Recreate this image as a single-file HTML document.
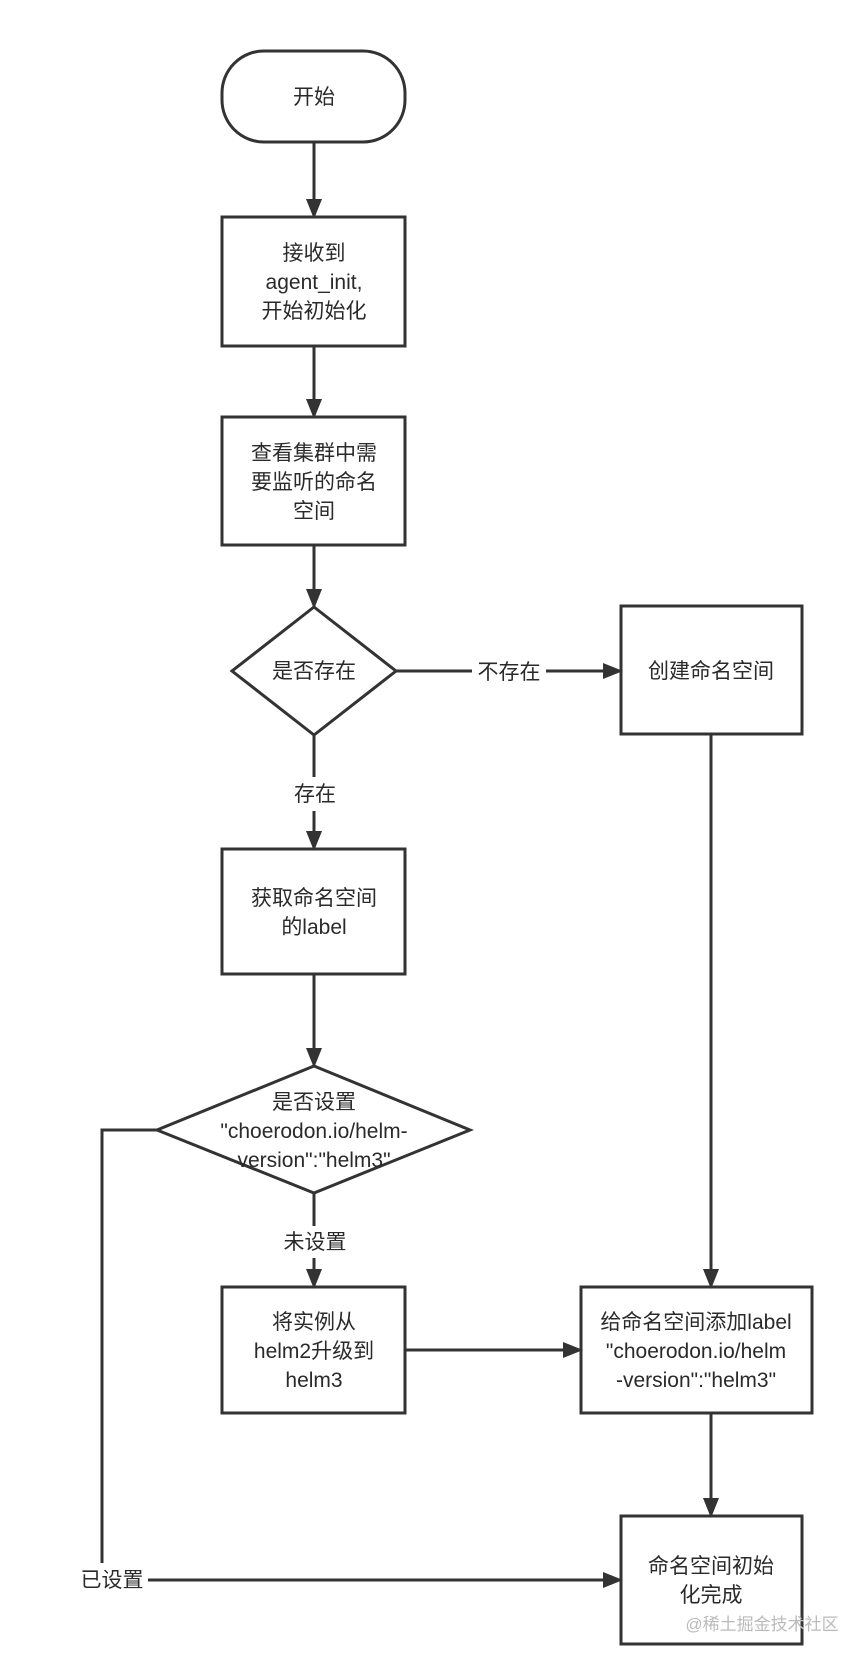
<!DOCTYPE html>
<html><head><meta charset="utf-8"><style>
html,body{margin:0;padding:0;background:#fff;}
svg{display:block;}
text{font-family:"Liberation Sans","Noto Sans CJK SC",sans-serif;font-size:21px;fill:#2a2a2a;text-anchor:middle;}
</style></head><body>
<svg width="866" height="1662" viewBox="0 0 866 1662" xmlns="http://www.w3.org/2000/svg">
<defs><marker id="a" markerWidth="20" markerHeight="16" refX="18" refY="8" orient="auto" markerUnits="userSpaceOnUse"><path d="M0,0 L20,8 L0,16 z" fill="#333"/></marker></defs>
<g stroke="#333" stroke-width="3" fill="none">
<rect x="222" y="51" width="183" height="91" rx="42"/>
<rect x="222" y="217" width="183" height="129"/>
<rect x="222" y="417" width="183" height="128"/>
<polygon points="314,607 396,671 314,735 232,671"/>
<rect x="621" y="606" width="181" height="128"/>
<rect x="222" y="849" width="183" height="125"/>
<polygon points="314,1066 470,1130 314,1193 157,1130"/>
<rect x="222" y="1287" width="183" height="126"/>
<rect x="581" y="1287" width="231" height="126"/>
<rect x="621" y="1516" width="181" height="128"/>
<line x1="314" y1="142" x2="314" y2="217" marker-end="url(#a)"/>
<line x1="314" y1="346" x2="314" y2="417" marker-end="url(#a)"/>
<line x1="314" y1="545" x2="314" y2="607" marker-end="url(#a)"/>
<line x1="396" y1="671" x2="472" y2="671"/>
<line x1="546" y1="671" x2="621" y2="671" marker-end="url(#a)"/>
<line x1="314" y1="735" x2="314" y2="777"/>
<line x1="314" y1="811" x2="314" y2="849" marker-end="url(#a)"/>
<line x1="314" y1="974" x2="314" y2="1066" marker-end="url(#a)"/>
<line x1="314" y1="1193" x2="314" y2="1226"/>
<line x1="314" y1="1258" x2="314" y2="1287" marker-end="url(#a)"/>
<line x1="405" y1="1350" x2="581" y2="1350" marker-end="url(#a)"/>
<line x1="711" y1="734" x2="711" y2="1287" marker-end="url(#a)"/>
<line x1="711" y1="1413" x2="711" y2="1516" marker-end="url(#a)"/>
<polyline points="157,1130 102,1130 102,1563"/>
<line x1="148" y1="1580" x2="621" y2="1580" marker-end="url(#a)"/>
</g>
<text x="314" y="104">开始</text>
<text x="314" y="260">接收到</text>
<text x="314" y="289">agent_init,</text>
<text x="314" y="318">开始初始化</text>
<text x="314" y="460">查看集群中需</text>
<text x="314" y="489">要监听的命名</text>
<text x="314" y="518">空间</text>
<text x="314" y="678">是否存在</text>
<text x="509" y="679">不存在</text>
<text x="711" y="678">创建命名空间</text>
<text x="315" y="801">存在</text>
<text x="314" y="905">获取命名空间</text>
<text x="314" y="934">的label</text>
<text x="314" y="1109">是否设置</text>
<text x="314" y="1138">"choerodon.io/helm-</text>
<text x="314" y="1167">version":"helm3"</text>
<text x="315" y="1249">未设置</text>
<text x="314" y="1329">将实例从</text>
<text x="314" y="1358">helm2升级到</text>
<text x="314" y="1387">helm3</text>
<text x="696" y="1329">给命名空间添加label</text>
<text x="696" y="1358">"choerodon.io/helm</text>
<text x="696" y="1387">-version":"helm3"</text>
<text x="711" y="1573">命名空间初始</text>
<text x="711" y="1602">化完成</text>
<text x="112" y="1587">已设置</text>
<text x="762" y="1630" style="font-size:17px;fill:#bbb">@稀土掘金技术社区</text>
</svg>
</body></html>
